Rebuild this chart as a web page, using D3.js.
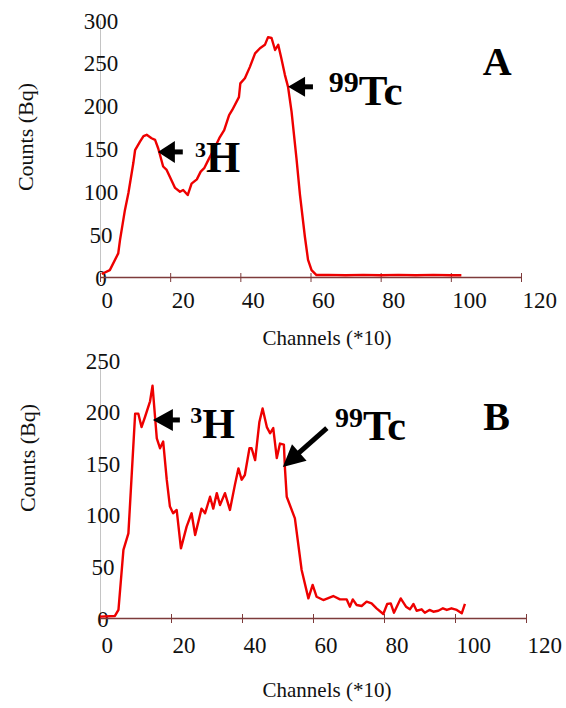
<!DOCTYPE html>
<html>
<head>
<meta charset="utf-8">
<script src="https://cdn.jsdelivr.net/npm/d3@7"></script>
<style>
  body { margin: 0; background: #fff; }
</style>
</head>
<body>
<svg id="chart" width="566" height="708"></svg>
<script>
// ---- data --------------------------------------------------------------
var xTicks = [0, 20, 40, 60, 80, 100, 120];
var yTicksA = [0, 50, 100, 150, 200, 250, 300];
var yTicksB = [0, 50, 100, 150, 200, 250];

// panel A (channels *10 , counts Bq)
var channelsA = [0.5,2.8,5.2,5.7,7.1,8.1,9.5,10.0,11.4,12.4,13.3,14.7,15.7,16.6,18.0,
  19.0,21.4,22.8,23.7,25.0,26.1,27.6,28.7,29.7,31.1,32.6,34.0,35.4,36.8,37.7,
  39.6,40.0,41.3,42.7,44.2,45.6,47.0,47.9,48.9,49.9,50.8,51.7,52.7,53.6,54.6,
  56.0,57.0,58.4,59.3,60.3,61.7,65,70,75,80,85,90,95,100,103];
var countsA = [3.5,8,27.6,43,78,98,133,148,158,164.5,166,162,160,150,129,
  125,104,99.5,101.5,95.7,109,114,123,127,138.5,150,162,171.5,189,195,
  210,226,232,245,261,267,271,280,279,265,271,255,236,222,193,
  138.5,96,47,20,8,2.3,2.5,2,2.5,2,2.5,2,2.5,2,2];

// panel B
var channelsB = [0,4.2,5.2,6.6,8.0,9.9,10.8,11.7,12.7,14.1,14.8,15.5,16.0,16.9,17.8,
  18.8,19.7,20.6,21.6,22.8,24.4,25.8,26.8,28.6,29.6,31.0,31.9,32.9,33.8,35.2,
  36.6,38.0,39.0,39.9,40.8,42.1,42.7,43.7,44.9,45.8,47.0,47.9,48.8,49.8,50.7,
  51.8,52.1,52.6,54.9,56.8,58.7,59.9,61.0,62.9,65.7,67.6,69.5,70.4,71.2,72.3,
  73.7,75.1,76.5,77.9,79.8,80.9,81.9,82.8,84.7,86.2,87.3,88.3,89.2,90.6,91.5,
  92.8,93.9,95.3,96.6,97.7,99.0,100.5,101.9,102.8];
var countsB = [1.3,2,7.8,66,82,198,198,185,195,210,225,195,174,164.5,171,
  134,108,101.5,104.7,67.5,88.5,101.5,80.4,106,101.5,117.5,106,121,109.5,121,
  104.7,129,145,134,138.6,164.5,164.5,153,190,203,185,179,184,155,169,
  168,145,117.5,96.6,46.5,19,32,20.6,17.4,21.3,18,18,11,18,12.6,
  11.6,15.8,14.2,9.4,3.9,13.6,14.2,5.1,19,11,8.4,13.6,7,8.4,5.1,
  7.8,6.1,7,9.4,7.8,9.4,7.8,4.5,13.6];

var serif = "'Liberation Serif', 'Times New Roman', serif";
var axisColor = "#7d3b3b";
var svg = d3.select("#chart");

// arrow from tail to tip, in pixels
function arrow(g, x1, y1, x2, y2, headLen, headHalf, shaftW) {
  var dx = x2 - x1, dy = y2 - y1, len = Math.sqrt(dx*dx + dy*dy);
  var ux = dx/len, uy = dy/len, nx = -uy, ny = ux;
  var bx = x2 - ux*headLen, by = y2 - uy*headLen;
  g.append("line")
    .attr("x1", x1).attr("y1", y1).attr("x2", bx + ux).attr("y2", by + uy)
    .attr("stroke", "#000").attr("stroke-width", shaftW);
  g.append("path")
    .attr("d", "M" + x2 + "," + y2 +
      "L" + (bx + nx*headHalf) + "," + (by + ny*headHalf) +
      "L" + (bx - nx*headHalf) + "," + (by - ny*headHalf) + "Z")
    .attr("fill", "#000");
}

// label with superscript isotope number
function isoLabel(g, px, py, sup, main, supSize, mainSize, raise) {
  var t = g.append("text").attr("x", px).attr("y", py)
    .style("font-family", serif).style("font-weight", "bold").attr("fill", "#000");
  t.append("tspan").text(sup).style("font-size", supSize + "px").attr("dy", -raise);
  t.append("tspan").text(main).style("font-size", mainSize + "px").attr("dy", raise);
}

function drawPanel(p) {
  var x = d3.scaleLinear().domain([0, 120]).range(p.xRange);
  var y = d3.scaleLinear().domain([0, p.yMax]).range(p.yRange);
  var g = svg.append("g");

  // y axis (light grey line, labels centred on it)
  var yAx = g.append("g")
    .attr("transform", "translate(" + x(0) + ",0)")
    .call(d3.axisLeft(y).tickValues(p.yTicks).tickSize(0).tickSizeOuter(0).tickPadding(0));
  yAx.select(".domain").attr("stroke", "#c4c4c4");
  yAx.selectAll("text")
    .attr("text-anchor", "middle").attr("x", p.yLabDx).attr("dy", "0.35em")
    .style("font-family", serif).style("font-size", "23px").attr("fill", "#111");

  // x axis
  var xAx = g.append("g")
    .attr("transform", "translate(0," + y(0) + ")")
    .call(d3.axisBottom(x).tickValues(xTicks).tickSize(5).tickSizeOuter(0).tickPadding(0));
  xAx.select(".domain").attr("stroke", axisColor).attr("stroke-width", 1.5);
  xAx.selectAll(".tick line").attr("y1", -4).attr("y2", 5).attr("stroke", axisColor);
  xAx.selectAll("text")
    .attr("text-anchor", "start").attr("x", 1).attr("y", p.xLabDy).attr("dy", "0.71em")
    .style("font-family", serif).style("font-size", "23px").attr("fill", "#111");

  // axis titles
  g.append("text")
    .attr("transform", "translate(" + p.yTitle[0] + "," + p.yTitle[1] + ") rotate(-90)")
    .attr("text-anchor", "middle").attr("dy", "0.35em")
    .style("font-family", serif).style("font-size", "22px").attr("fill", "#111")
    .text("Counts (Bq)");
  g.append("text")
    .attr("x", p.xTitle[0]).attr("y", p.xTitle[1])
    .attr("text-anchor", "middle").attr("dy", "0.35em")
    .style("font-family", serif).style("font-size", "21px").attr("fill", "#111")
    .text("Channels (*10)");

  // spectrum
  var pts = p.channels.map(function(c, i) { return [c, p.counts[i]]; });
  g.append("path")
    .datum(pts)
    .attr("fill", "none")
    .attr("stroke", "#ee0000")
    .attr("stroke-width", 2.4)
    .attr("stroke-linejoin", "round")
    .attr("d", d3.line().x(function(d) { return x(d[0]); }).y(function(d) { return y(d[1]); }));

  // annotations
  p.arrows.forEach(function(a) {
    arrow(g, x(a.from[0]), y(a.from[1]), x(a.to[0]), y(a.to[1]), a.head, a.half, 5);
  });
  p.isotopes.forEach(function(l) {
    isoLabel(g, x(l.at[0]), y(l.at[1]), l.sup, l.main, l.supSize, l.mainSize, l.raise);
  });
  g.append("text")
    .attr("x", x(p.letterAt[0])).attr("y", y(p.letterAt[1]))
    .attr("text-anchor", "middle")
    .style("font-family", serif).style("font-weight", "bold").style("font-size", "40px")
    .text(p.letter);
}

drawPanel({
  channels: channelsA, counts: countsA, yMax: 300, yTicks: yTicksA,
  xRange: [100, 521], yRange: [277, 20], yLabDx: 1, xLabDy: 15,
  yTitle: [25, 137], xTitle: [327, 338],
  arrows: [
    { from: [23.6, 146], to: [16.5, 146], head: 17, half: 11 },
    { from: [60.7, 222], to: [53.6, 222], head: 17, half: 10 }
  ],
  isotopes: [
    { at: [27.1, 122.5], sup: "3", main: "H", supSize: 22, mainSize: 44, raise: 15 },
    { at: [65.2, 200.7], sup: "99", main: "Tc", supSize: 30, mainSize: 43, raise: 13 }
  ],
  letter: "A", letterAt: [113.2, 235.7]
});

drawPanel({
  channels: channelsB, counts: countsB, yMax: 250, yTicks: yTicksB,
  xRange: [100, 526], yRange: [618, 360], yLabDx: 3, xLabDy: 19,
  yTitle: [27, 458], xTitle: [327, 690],
  arrows: [
    { from: [22.5, 191.9], to: [14.9, 191.9], head: 20, half: 11 },
    { from: [63.9, 184.1], to: [51.5, 146.3], head: 22, half: 11 }
  ],
  isotopes: [
    { at: [25.4, 174.4], sup: "3", main: "H", supSize: 24, mainSize: 42, raise: 15 },
    { at: [66.2, 172.5], sup: "99", main: "Tc", supSize: 28, mainSize: 42, raise: 13 }
  ],
  letter: "B", letterAt: [111.7, 182]
});
</script>
</body>
</html>
